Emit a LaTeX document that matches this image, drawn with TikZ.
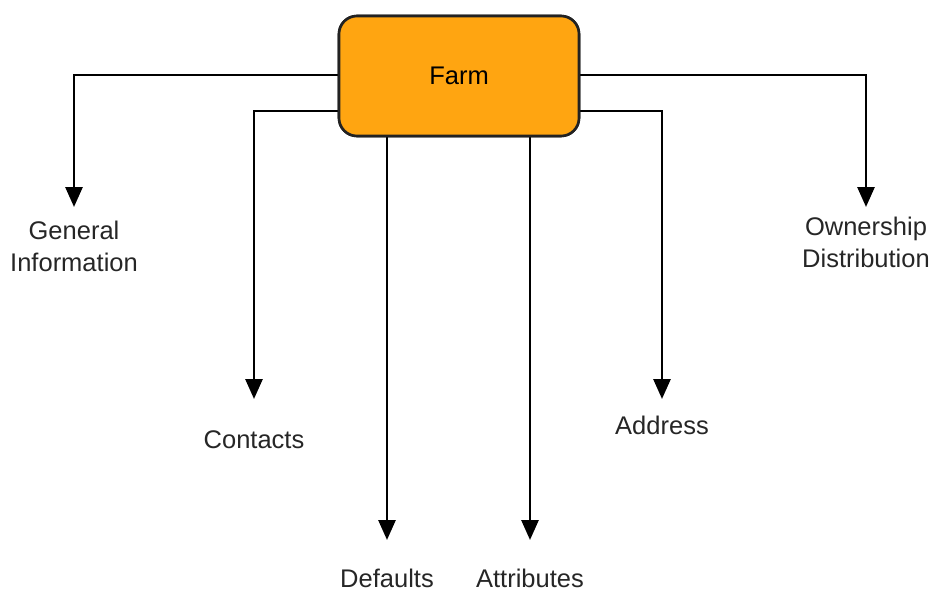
\documentclass[tikz,border=0pt]{standalone}
\usepackage{fontspec}
\setmainfont{Liberation Sans}
\usetikzlibrary{arrows.meta}
\definecolor{farmfill}{HTML}{FFA511}
\definecolor{edge}{HTML}{222222}
\tikzset{
  box/.style={draw=edge, line width=2.6pt, fill=farmfill, rounded corners=18pt,
    minimum width=240pt, minimum height=120pt, inner sep=0pt, font=\fontsize{25.5}{30}\selectfont},
  lbl/.style={anchor=north, inner sep=0pt, align=center, text=black!85, font=\fontsize{25.5}{32}\selectfont},
  arr/.style={draw=black, line width=2.8pt, -{Triangle[width=17pt,length=20pt]}}
}
\begin{document}
\begin{tikzpicture}[x=1pt,y=-1pt]
\useasboundingbox (0,0) rectangle (935,592);
\node[box] (farm) at (459,76) {Farm};
\node[lbl] (gen) at (74,221) {General\\Information};
\node[lbl] (con) at (254,430) {Contacts};
\node[lbl] (def) at (387,569) {Defaults};
\node[lbl] (att) at (530,569) {Attributes};
\node[lbl] (adr) at (662,416) {Address};
\node[lbl] (own) at (866,217) {Ownership\\Distribution};
\coordinate (l1) at (339,75);
\coordinate (l2) at (339,111);
\coordinate (r1) at (579,75);
\coordinate (r2) at (579,111);
\draw[arr, shorten >=14pt] (farm.west |- l1) -| (gen.north);
\draw[arr, shorten >=31pt] (farm.west |- l2) -| (con.north);
\draw[arr, shorten >=10pt] (farm.east |- r1) -| (own.north);
\draw[arr, shorten >=17pt] (farm.east |- r2) -| (adr.north);
\draw[arr, shorten >=29pt] (farm.south -| def.north) -- (def.north);
\draw[arr, shorten >=29pt] (farm.south -| att.north) -- (att.north);
\node[box] at (farm) {Farm};
\end{tikzpicture}
\end{document}
